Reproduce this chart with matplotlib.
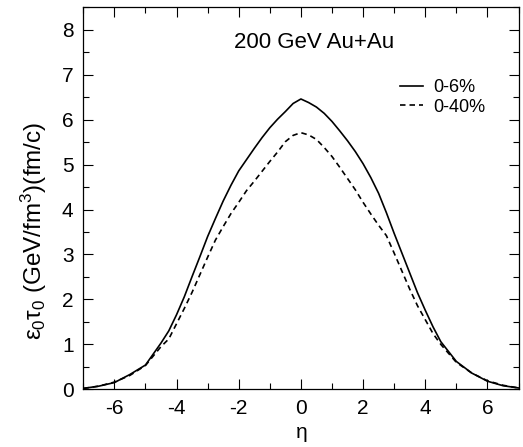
import matplotlib
matplotlib.use("Agg")
import matplotlib.pyplot as plt
from matplotlib.ticker import MultipleLocator

plt.rcParams['font.family'] = ['Liberation Sans', 'DejaVu Sans']
plt.rcParams['mathtext.fontset'] = 'custom'
plt.rcParams['mathtext.rm'] = 'Liberation Sans'
plt.rcParams['mathtext.it'] = 'Liberation Sans'
plt.rcParams['axes.unicode_minus'] = False

# data
eta = [-7, -6.5, -6, -5.5, -5, -4.5, -4.25, -4, -3.75, -3.5, -3.25, -3, -2.75, -2.5, -2.25,
       -2, -1.75, -1.5, -1.25, -1, -0.75, -0.5, -0.25, 0, 0.25, 0.5, 0.75, 1, 1.25, 1.5,
       1.75, 2, 2.25, 2.5, 2.75, 3, 3.25, 3.5, 3.75, 4, 4.25, 4.5, 5, 5.5, 6, 6.5, 7]
central_0_6 = [0.02, 0.07, 0.15, 0.33, 0.54, 1.03, 1.30, 1.66, 2.06, 2.51, 2.95, 3.40, 3.80,
               4.19, 4.54, 4.86, 5.11, 5.36, 5.60, 5.82, 6.01, 6.18, 6.36, 6.46, 6.38, 6.28,
               6.14, 5.96, 5.75, 5.53, 5.29, 5.02, 4.71, 4.36, 3.93, 3.47, 3.03, 2.59, 2.15,
               1.76, 1.39, 1.06, 0.62, 0.36, 0.18, 0.08, 0.03]
central_0_40 = [0.02, 0.07, 0.16, 0.31, 0.53, 0.95, 1.12, 1.46, 1.80, 2.16, 2.55, 2.94, 3.32,
                3.62, 3.91, 4.16, 4.42, 4.63, 4.85, 5.07, 5.28, 5.51, 5.65, 5.71, 5.66, 5.56,
                5.38, 5.18, 4.94, 4.69, 4.44, 4.16, 3.90, 3.65, 3.42, 3.03, 2.63, 2.23, 1.86,
                1.55, 1.24, 1.00, 0.60, 0.36, 0.19, 0.09, 0.03]
labels = ['0-6%', '0-40%']

W, H = 523, 447
fig = plt.figure(figsize=(W / 100, H / 100), dpi=100)
ax = fig.add_axes([83.3 / W, (H - 389.3) / H, (518.5 - 83.3) / W, (389.3 - 7.3) / H])

ax.plot(eta, central_0_6, color='black', lw=1.2, label=labels[0])
ax.plot(eta, central_0_40, color='black', lw=1.2, linestyle=(0, (3.3, 2.4)), label=labels[1])

ax.set_xlim(-7, 7)
ax.set_ylim(0, 8.5)
ax.xaxis.set_major_locator(MultipleLocator(2))
ax.xaxis.set_minor_locator(MultipleLocator(1))
ax.yaxis.set_major_locator(MultipleLocator(1))
ax.yaxis.set_minor_locator(MultipleLocator(0.5))
ax.tick_params(which='both', direction='in', top=True, right=True, width=0.8,
               labelsize=15, pad=7)
ax.tick_params(which='major', length=7.2)
ax.tick_params(which='minor', length=4.3)
for s in ax.spines.values():
    s.set_linewidth(0.9)

ax.set_xlabel(r'$\eta$', fontsize=15, labelpad=5)
fig.text(34 / W, (H - 231) / H, r'$\varepsilon_0\tau_0$ (GeV/fm$^3$)(fm/c)',
         rotation=90, ha='center', va='center', fontsize=17.5)

ax.text(314 / W, (H - 43) / H, '200 GeV Au+Au', transform=fig.transFigure,
        ha='center', va='center', fontsize=16)

leg = ax.legend(loc='upper left', bbox_to_anchor=(400 / W, (H - 79) / H),
                bbox_transform=fig.transFigure, frameon=False, fontsize=13,
                handlelength=1.25, handletextpad=0.6, labelspacing=0.15,
                borderpad=0, borderaxespad=0)

fig.savefig('out.png', dpi=100)
